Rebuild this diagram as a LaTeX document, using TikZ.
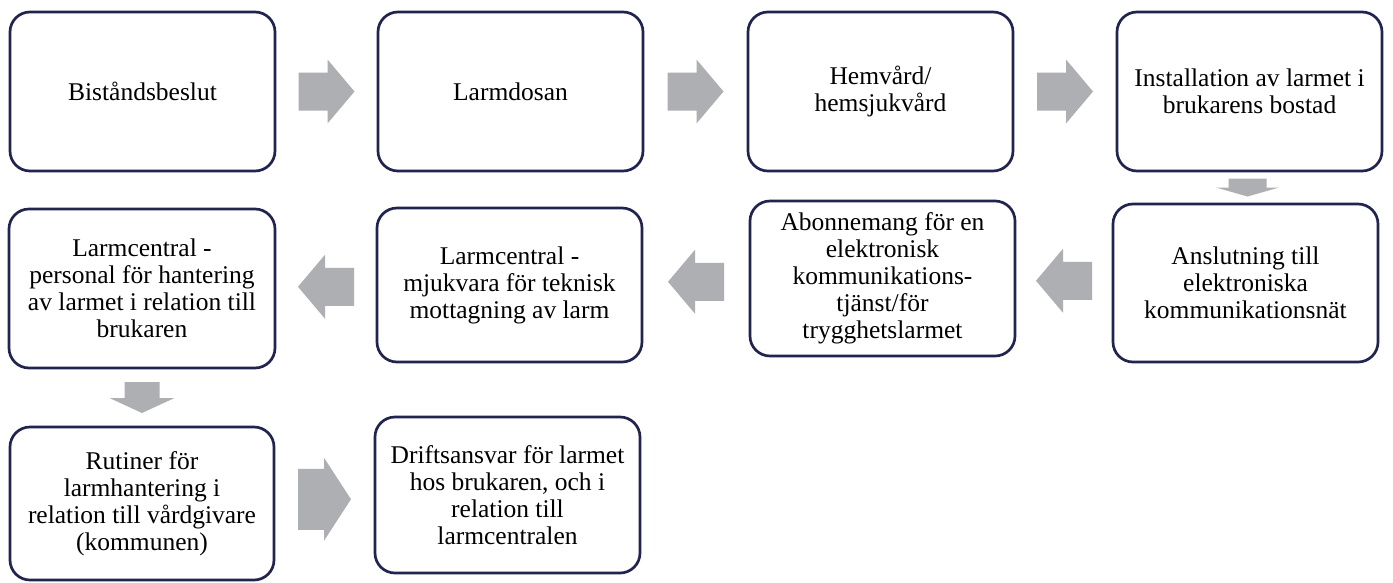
\documentclass[tikz,border=0pt]{standalone}
\usepackage{fontspec}
\setmainfont{Liberation Serif}
\usetikzlibrary{calc}
\definecolor{boxline}{RGB}{33,36,79}
\definecolor{arrowgray}{RGB}{173,175,179}
\tikzset{
  stagebox/.style={draw=boxline, line width=2.7pt, rounded corners=20pt, fill=white,
    align=center, inner sep=4pt, font=\fontsize{25.5}{27}\selectfont},
  arrowfill/.style={fill=arrowgray, draw=none}
}
% #1 centre, #2 angle, #3 length, #4 head width, #5 shaft thickness, #6 head length
\newcommand\BlockArr[6]{%
  \path[arrowfill, shift={#1}, rotate=#2]
    ({-#3/2},{-#5/2}) -- ({#3/2-#6},{-#5/2}) -- ({#3/2-#6},{-#4/2}) -- ({#3/2},0)
    -- ({#3/2-#6},{#4/2}) -- ({#3/2-#6},{#5/2}) -- ({-#3/2},{#5/2}) -- cycle;}
\begin{document}
\begin{tikzpicture}[x=1pt,y=-1pt]
\fill[white] (0,0) rectangle (1393,582);
\useasboundingbox (0,0) rectangle (1393,582);
% row 1
\node[stagebox, minimum width=265pt, minimum height=159pt] (b1) at (142.5,91.5) {Biståndsbeslut};
\node[stagebox, minimum width=265pt, minimum height=159pt] (b2) at (510.5,91.5) {Larmdosan};
\node[stagebox, minimum width=265pt, minimum height=159pt] (b3) at (880.5,91.5) {Hemvård/\\hemsjukvård};
\node[stagebox, minimum width=265pt, minimum height=159pt] (b4) at (1249.5,91.5) {Installation av larmet i\\brukarens bostad};
% row 2
\node[stagebox, minimum width=265pt, minimum height=158pt] (b5) at (1245.5,283) {Anslutning till\\elektroniska\\kommunikationsnät};
\node[stagebox, minimum width=265pt, minimum height=155pt] (b6) at (882.5,278.5) {Abonnemang för en\\elektronisk\\kommunikations-\\tjänst/för\\trygghetslarmet};
\node[stagebox, minimum width=265pt, minimum height=154pt] (b7) at (509.5,285) {Larmcentral -\\mjukvara för teknisk\\mottagning av larm};
\node[stagebox, minimum width=266pt, minimum height=159pt] (b8) at (142,288.5) {Larmcentral -\\personal för hantering\\av larmet i relation till\\brukaren};
% row 3
\node[stagebox, minimum width=264pt, minimum height=153pt] (b9) at (142,503.5) {Rutiner för\\larmhantering i\\relation till vårdgivare\\(kommunen)};
\node[stagebox, minimum width=265pt, minimum height=156pt] (b10) at (507.5,495) {Driftsansvar för larmet\\hos brukaren, och i\\relation till\\larmcentralen};
% arrows
\BlockArr{($(b1.east)!0.5!(b2.west)$)}{0}{56}{64}{38}{27}
\BlockArr{($(b2.east)!0.5!(b3.west)$)}{0}{56}{64}{38}{27}
\BlockArr{($(b3.east)!0.5!(b4.west)$)}{0}{56}{64}{38}{27}
\BlockArr{($(b4.south)!0.5!(b5.north)$)}{-90}{18}{63}{38}{9}
\BlockArr{($(b5.west)!0.5!(b6.east)$)}{180}{56}{64}{38}{27}
\BlockArr{($(b6.west)!0.5!(b7.east)$)}{180}{56}{64}{38}{27}
\BlockArr{($(b7.west)!0.5!(b8.east)$)}{180}{56}{64}{38}{27}
\BlockArr{($(b8.south)!0.5!(b9.north)$)}{-90}{31}{65}{35}{15}
\BlockArr{($(b9.east)!0.5!(b10.west)$)}{0}{53}{83}{61}{27}
\end{tikzpicture}
\end{document}
